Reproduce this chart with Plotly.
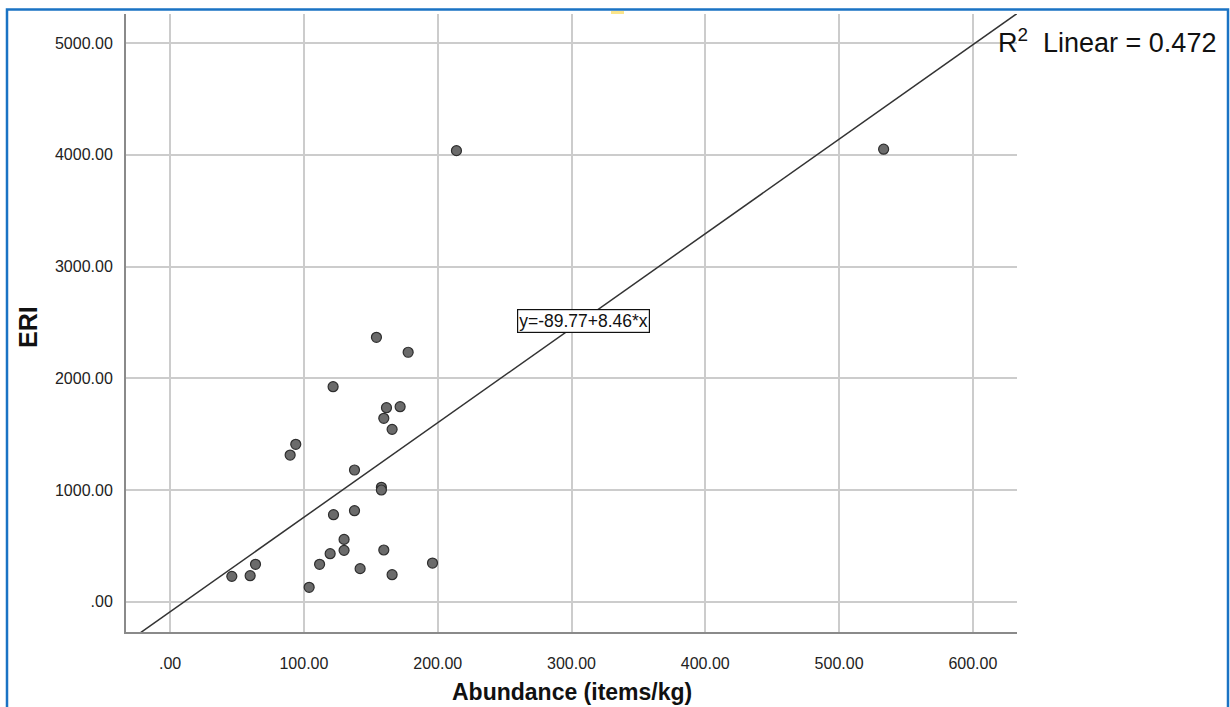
import plotly.graph_objects as go

# Data
abundance = [121.8, 161.7, 171.9, 159.7, 165.9, 93.9, 89.7, 137.8, 157.9, 157.9,
             137.8, 122.1, 130.0, 130.0, 159.7, 119.6, 196.1, 111.7, 63.8, 142.0,
             46.1, 59.8, 165.9, 103.9, 154.2, 177.9, 214.0, 533.3]
eri = [1925, 1737, 1746, 1642, 1543, 1409, 1313, 1179, 1024, 1000,
       815, 779, 558, 460, 463, 430, 346, 335, 335, 296,
       227, 233, 242, 129, 2367, 2233, 4038, 4051]

intercept = -89.77
slope = 8.46
r2_text = "R<sup>2</sup>  Linear = 0.472"
eq_text = "y=-89.77+8.46*x"

x_range = [-33, 633]
y_range = [-271, 5261]

x_tickvals = [0, 100, 200, 300, 400, 500, 600]
x_ticktext = [".00", "100.00", "200.00", "300.00", "400.00", "500.00", "600.00"]
y_tickvals = [0, 1000, 2000, 3000, 4000, 5000]
y_ticktext = [".00", "1000.00", "2000.00", "3000.00", "4000.00", "5000.00"]

line_x = [x_range[0], x_range[1] + 10]
line_y = [intercept + slope * v for v in line_x]

fig = go.Figure()
fig.add_trace(go.Scatter(
    x=line_x, y=line_y, mode="lines",
    line=dict(color="#333333", width=1.5), hoverinfo="skip", showlegend=False))
fig.add_trace(go.Scatter(
    x=abundance, y=eri, mode="markers",
    marker=dict(size=10, color="#6b6b6b", line=dict(color="#2e2e2e", width=1.2)),
    showlegend=False))

font_family = "Liberation Sans, Arial, sans-serif"

fig.update_layout(
    width=1230, height=707,
    margin=dict(l=126, r=213, t=14, b=75),
    paper_bgcolor="white", plot_bgcolor="white",
    font=dict(family=font_family, color="#222222"),
    xaxis=dict(range=x_range, tickvals=x_tickvals, ticktext=x_ticktext,
               showgrid=True, gridcolor="#cccccc", gridwidth=1.5,
               showline=True, linecolor="#8a8a8a", linewidth=2,
               zeroline=False, ticks="", ticklabelstandoff=16,
               tickfont=dict(size=16, color="#222222")),
    yaxis=dict(range=y_range, tickvals=y_tickvals, ticktext=y_ticktext,
               showgrid=True, gridcolor="#cccccc", gridwidth=1.5,
               showline=True, linecolor="#8a8a8a", linewidth=2,
               zeroline=False, ticks="", ticklabelstandoff=8,
               tickfont=dict(size=16, color="#222222")),
)

# Equation label
fig.add_annotation(x=309, y=2513, xref="x", yref="y", text=eq_text, showarrow=False,
                   font=dict(size=17.5, color="#111111", family=font_family),
                   bgcolor="white", bordercolor="#111111", borderwidth=1.2, borderpad=1)

# R^2 label
fig.add_annotation(x=0.9764, y=0.956, xref="paper", yref="paper", text=r2_text,
                   showarrow=False, xanchor="left", yanchor="middle",
                   font=dict(size=27, color="#111111", family=font_family))

# Axis titles
fig.add_annotation(x=0.5006, y=-0.097, xref="paper", yref="paper",
                   text="<b>Abundance (items/kg)</b>", showarrow=False,
                   xanchor="center", yanchor="middle",
                   font=dict(size=23, color="#111111", family=font_family))
fig.add_annotation(x=-0.11, y=0.4935, xref="paper", yref="paper",
                   text="<b>ERI</b>", showarrow=False, textangle=-90,
                   xanchor="center", yanchor="middle",
                   font=dict(size=25, color="#111111", family=font_family))

# Blue frame and small yellow mark
fig.add_shape(type="rect", xref="paper", yref="paper",
              x0=(7 - 126) / 891, x1=(1228 - 126) / 891,
              y0=(632 - 720) / 618, y1=(632 - 9.5) / 618,
              line=dict(color="#1a73c4", width=2.5), fillcolor="rgba(0,0,0,0)", layer="above")
fig.add_shape(type="rect", xref="paper", yref="paper",
              x0=(611 - 126) / 891, x1=(624 - 126) / 891,
              y0=(632 - 14) / 618, y1=(632 - 11) / 618,
              line=dict(width=0), fillcolor="#fbe58a", layer="above")

fig.write_html("out.html")
